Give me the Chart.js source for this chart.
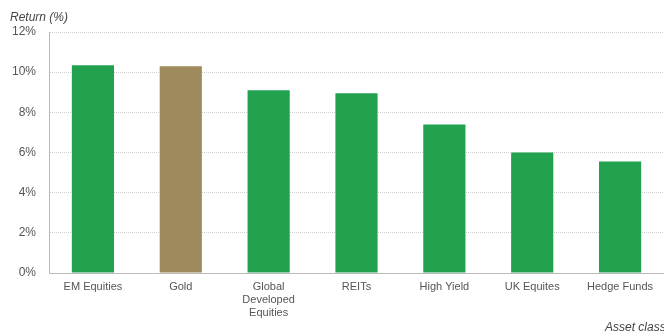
<!DOCTYPE html>
<html lang="en">
<head>
  <meta charset="UTF-8" />
  <title>Return by asset class</title>
  <script src="https://cdn.jsdelivr.net/npm/chart.js"></script>
  <style>
    html, body { margin: 0; padding: 0; background: #fff; }
    #wrap { position: relative; width: 664px; height: 333px; }
  </style>
</head>
<body>
  <div id="wrap"><canvas id="chart"></canvas></div>

<script>
  // --- data ---
  const categories = ["EM Equities", "Gold", ["Global", "Developed", "Equities"], "REITs", "High Yield", "UK Equites", "Hedge Funds"];
  const returns = [10.35, 10.3, 9.1, 8.95, 7.4, 6.0, 5.55];
  const barColors = ["#22a14f", "#9e8a5d", "#22a14f", "#22a14f", "#22a14f", "#22a14f", "#22a14f"];
  const yTicks = [0, 2, 4, 6, 8, 10, 12];

  const font = "'Liberation Sans', Arial, sans-serif";

  // axis captions drawn on the canvas
  const captions = {
    id: "captions",
    afterDraw(chart) {
      const ctx = chart.ctx;
      ctx.save();
      ctx.font = "italic 12px " + font;
      ctx.fillStyle = "#444";
      ctx.textBaseline = "middle";
      ctx.textAlign = "left";
      ctx.fillText("Return (%)", 10, 18);
      ctx.fillText("Asset class", 605, 328);
      ctx.restore();
    }
  };

  new Chart(document.getElementById("chart"), {
    type: "bar",
    data: {
      labels: categories,
      datasets: [{
        data: returns,
        backgroundColor: barColors,
        barPercentage: 0.48,
        categoryPercentage: 1
      }]
    },
    options: {
      responsive: true,
      maintainAspectRatio: false,
      animation: false,
      layout: { padding: { top: 32, right: 0, bottom: 0, left: 0 } },
      plugins: { legend: { display: false }, tooltip: { enabled: false } },
      scales: {
        x: {
          grid: { display: false, drawTicks: false },
          border: { color: "#bbb", width: 1 },
          ticks: { color: "#555", font: { family: font, size: 11 }, padding: 7, maxRotation: 0, autoSkip: false },
          afterFit(scale) { scale.height = 60; }
        },
        y: {
          min: 0,
          max: 12,
          afterBuildTicks(scale) { scale.ticks = yTicks.map(v => ({ value: v })); },
          grid: { color: "#cfcfcf", lineWidth: 1, drawTicks: false },
          // in v4 border.dash styles the grid lines; the axis line stays solid
          border: { color: "#bbb", width: 1, dash: [1, 1] },
          ticks: {
            color: "#555",
            font: { family: font, size: 12 },
            padding: 13,
            callback: v => v + "%"
          },
          afterFit(scale) { scale.width = 49; }
        }
      }
    },
    plugins: [captions]
  });
</script>
</body>
</html>
